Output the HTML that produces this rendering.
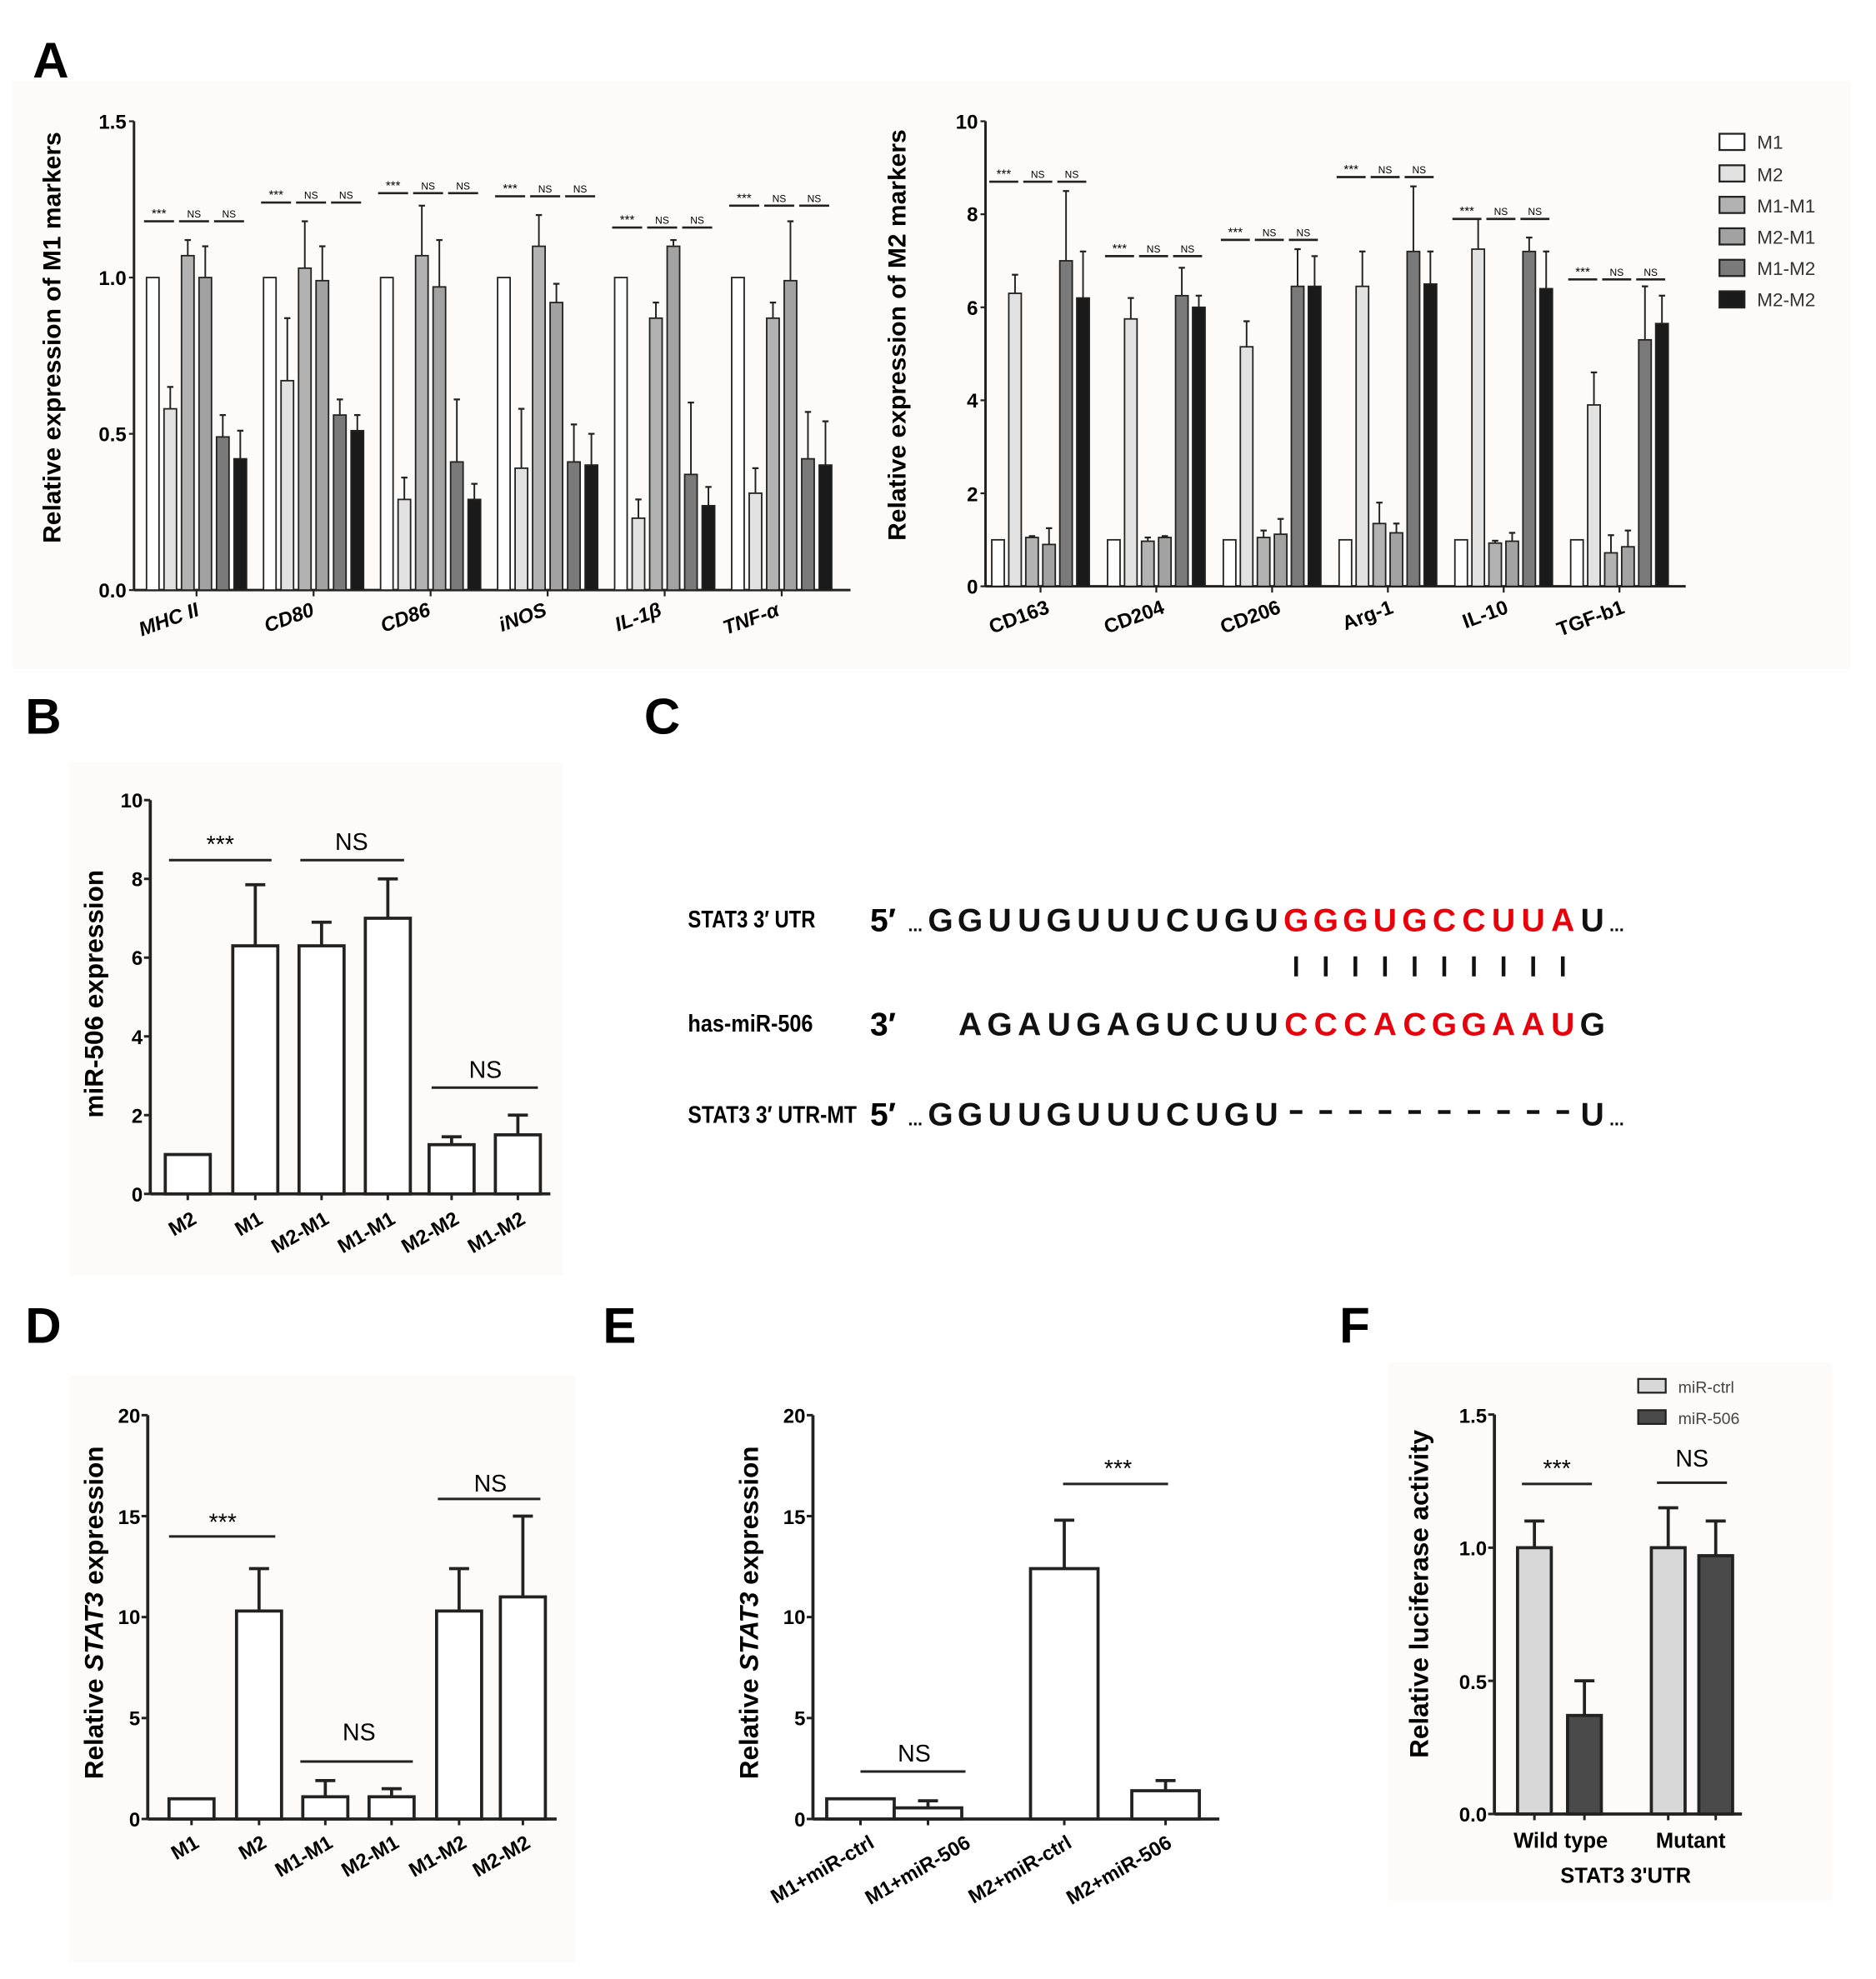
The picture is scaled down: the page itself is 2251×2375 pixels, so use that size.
<!DOCTYPE html>
<html><head><meta charset="utf-8"><style>
html,body{margin:0;padding:0;background:#fff}
svg{display:block}
text{font-family:"Liberation Sans",sans-serif}
.b{font-weight:bold}
.seq{font-family:"Liberation Sans",sans-serif;font-weight:bold;font-size:26px;text-anchor:middle}
.lab{font-family:"Liberation Sans",sans-serif;font-weight:bold;font-size:19px}
</style></head><body>
<svg id="s" width="2251" height="2375" viewBox="0 0 1500 1583" xmlns="http://www.w3.org/2000/svg">
<rect x="0" y="0" width="1500" height="1583" fill="#fff"/>
<rect x="10" y="65" width="1470" height="470" fill="#fcfbf9"/>
<rect x="55" y="610" width="395" height="410" fill="#fcfbf9"/>
<rect x="55" y="1100" width="405" height="470" fill="#fcfbf9"/>
<rect x="1110" y="1090" width="355" height="430" fill="#fcfbf9"/>
<g class="b" font-size="40">
<text x="26" y="62">A</text><text x="20" y="587">B</text><text x="515" y="587">C</text>
<text x="20" y="1074">D</text><text x="482" y="1074">E</text><text x="1071" y="1074">F</text>
</g>
<g id="g"></g>
<!-- A left texts -->
<g class="b" font-size="16" text-anchor="end">
<text x="101" y="478">0.0</text><text x="101" y="353">0.5</text><text x="101" y="228">1.0</text><text x="101" y="103">1.5</text>
</g>
<text class="b" font-size="20" transform="translate(48,270) rotate(-90)" text-anchor="middle">Relative expression of M1 markers</text>
<g class="b" font-size="16" font-style="italic" text-anchor="end">
<text transform="translate(160,492) rotate(-20)">MHC II</text>
<text transform="translate(252,492) rotate(-20)">CD80</text>
<text transform="translate(345,492) rotate(-20)">CD86</text>
<text transform="translate(438,492) rotate(-20)">iNOS</text>
<text transform="translate(530,492) rotate(-20)">IL-1β</text>
<text transform="translate(624,492) rotate(-20)">TNF-α</text>
</g>
<!-- A right -->
<g class="b" font-size="16" text-anchor="end">
<text x="782" y="475">0</text><text x="782" y="401">2</text><text x="782" y="326">4</text><text x="782" y="252">6</text><text x="782" y="177">8</text><text x="782" y="103">10</text>
</g>
<text class="b" font-size="20" transform="translate(724,268) rotate(-90)" text-anchor="middle">Relative expression of M2 markers</text>
<g class="b" font-size="16" text-anchor="end">
<text transform="translate(840,490) rotate(-20)">CD163</text>
<text transform="translate(932,490) rotate(-20)">CD204</text>
<text transform="translate(1025,490) rotate(-20)">CD206</text>
<text transform="translate(1115,490) rotate(-20)">Arg-1</text>
<text transform="translate(1207,490) rotate(-20)">IL-10</text>
<text transform="translate(1300,490) rotate(-20)">TGF-b1</text>
</g>
<g font-size="15" fill="#333">
<text x="1405" y="119">M1</text><text x="1405" y="145">M2</text><text x="1405" y="170">M1-M1</text><text x="1405" y="195">M2-M1</text><text x="1405" y="220">M1-M2</text><text x="1405" y="245">M2-M2</text>
</g>
<!-- B -->
<g class="b" font-size="16" text-anchor="end">
<text x="114" y="961">0</text><text x="114" y="898">2</text><text x="114" y="835">4</text><text x="114" y="772">6</text><text x="114" y="709">8</text><text x="114" y="646">10</text>
</g>
<text class="b" font-size="21" transform="translate(82,795) rotate(-90)" text-anchor="middle">miR-506 expression</text>
<g class="b" font-size="16" text-anchor="end">
<text transform="translate(158,978) rotate(-30)">M2</text>
<text transform="translate(211,978) rotate(-30)">M1</text>
<text transform="translate(264,978) rotate(-30)">M2-M1</text>
<text transform="translate(317,978) rotate(-30)">M1-M1</text>
<text transform="translate(368,978) rotate(-30)">M2-M2</text>
<text transform="translate(421,978) rotate(-30)">M1-M2</text>
</g>
<g font-size="19" text-anchor="middle"><text x="176" y="682">***</text><text x="281" y="680">NS</text><text x="388" y="862">NS</text></g>
<!-- C -->
<g class="lab"><text x="550" y="742" textLength="102" lengthAdjust="spacingAndGlyphs">STAT3 3′ UTR</text><text x="550" y="825" textLength="100" lengthAdjust="spacingAndGlyphs">has-miR-506</text><text x="550" y="898" textLength="135" lengthAdjust="spacingAndGlyphs">STAT3 3′ UTR-MT</text></g>
<g id="c"></g>
<!-- D -->
<g class="b" font-size="16" text-anchor="end">
<text x="112" y="1461">0</text><text x="112" y="1380">5</text><text x="112" y="1299">10</text><text x="112" y="1219">15</text><text x="112" y="1138">20</text>
</g>
<text class="b" font-size="21" transform="translate(82,1290) rotate(-90)" text-anchor="middle">Relative <tspan font-style="italic">STAT3</tspan> expression</text>
<g class="b" font-size="16" text-anchor="end">
<text transform="translate(160,1477) rotate(-30)">M1</text>
<text transform="translate(214,1477) rotate(-30)">M2</text>
<text transform="translate(267,1477) rotate(-30)">M1-M1</text>
<text transform="translate(320,1477) rotate(-30)">M2-M1</text>
<text transform="translate(374,1477) rotate(-30)">M1-M2</text>
<text transform="translate(425,1477) rotate(-30)">M2-M2</text>
</g>
<g font-size="19" text-anchor="middle"><text x="178" y="1224">***</text><text x="287" y="1392">NS</text><text x="392" y="1193">NS</text></g>
<!-- E -->
<g class="b" font-size="16" text-anchor="end">
<text x="644" y="1461">0</text><text x="644" y="1380">5</text><text x="644" y="1299">10</text><text x="644" y="1219">15</text><text x="644" y="1138">20</text>
</g>
<text class="b" font-size="21" transform="translate(606,1290) rotate(-90)" text-anchor="middle">Relative <tspan font-style="italic">STAT3</tspan> expression</text>
<g class="b" font-size="16" text-anchor="end">
<text transform="translate(700,1477) rotate(-30)">M1+miR-ctrl</text>
<text transform="translate(777,1477) rotate(-30)">M1+miR-506</text>
<text transform="translate(858,1477) rotate(-30)">M2+miR-ctrl</text>
<text transform="translate(938,1477) rotate(-30)">M2+miR-506</text>
</g>
<g font-size="19" text-anchor="middle"><text x="731" y="1409">NS</text><text x="894" y="1181">***</text></g>
<!-- F -->
<g class="b" font-size="16" text-anchor="end">
<text x="1189" y="1457">0.0</text><text x="1189" y="1351">0.5</text><text x="1189" y="1244">1.0</text><text x="1189" y="1138">1.5</text>
</g>
<text class="b" font-size="21" transform="translate(1142,1275) rotate(-90)" text-anchor="middle">Relative luciferase activity</text>
<g class="b" font-size="17" text-anchor="middle"><text x="1248" y="1478">Wild type</text><text x="1352" y="1478">Mutant</text><text x="1300" y="1506">STAT3 3'UTR</text></g>
<g font-size="13" fill="#444"><text x="1342" y="1114">miR-ctrl</text><text x="1342" y="1139">miR-506</text></g>
<g font-size="19" text-anchor="middle"><text x="1245" y="1181">***</text><text x="1353" y="1173">NS</text></g>
</svg>
<script>
var g=document.getElementById('g'),h='';
function R(x,y,w,hh,f,sw){h+='<rect x="'+x+'" y="'+y+'" width="'+w+'" height="'+hh+'" fill="'+f+'" stroke="#222" stroke-width="'+(sw||1)+'"/>';}
function L(x1,y1,x2,y2,sw){h+='<line x1="'+x1+'" y1="'+y1+'" x2="'+x2+'" y2="'+y2+'" stroke="#222" stroke-width="'+(sw||1.5)+'"/>';}
var fills=['#fff','#e2e2e2','#b2b2b2','#a2a2a2','#7a7a7a','#1a1a1a'];
function grouped(ax,y0,sc,xend,start,pitch,bp,bw,data,ticks){
 L(ax,y0,xend,y0,2);L(ax,y0,ax,y0-ticks[ticks.length-1]*sc,2);
 ticks.forEach(function(t){L(ax-4,y0-t*sc,ax,y0-t*sc,1.5);});
 data.forEach(function(d,gi){var s=start+gi*pitch;
  for(var i=0;i<6;i++){var x=s+i*bp,v=d[0][i];R(x,y0-v*sc,bw,v*sc,fills[i],1.2);
   if(i>0){var e=d[1][i-1];L(x+bw/2,y0-v*sc,x+bw/2,y0-e*sc,1.3);L(x+bw/2-2.5,y0-e*sc,x+bw/2+2.5,y0-e*sc,1.5);}}
  var sy=y0-d[2]*sc;
  for(var k=0;k<3;k++){var a=s+k*2*bp-2,b=a+2*bp-4;L(a,sy,b,sy,1.8);
   h+='<text x="'+(a+b)/2+'" y="'+(sy-3)+'" font-size="'+(k==0?10:8)+'" text-anchor="middle">'+(k==0?'***':'NS')+'</text>';}
  L(s+2.5*bp+bw/2,y0,s+2.5*bp+bw/2,y0+5,1.5);
 });}
grouped(107,472,250,680,117,93.6,14,10,[
[[1,.58,1.07,1.0,.49,.42],[.65,1.12,1.1,.56,.51],1.18],
[[1,.67,1.03,.99,.56,.51],[.87,1.18,1.1,.61,.56],1.24],
[[1,.29,1.07,.97,.41,.29],[.36,1.23,1.12,.61,.34],1.27],
[[1,.39,1.1,.92,.41,.40],[.58,1.2,.98,.53,.5],1.26],
[[1,.23,.87,1.1,.37,.27],[.29,.92,1.12,.6,.33],1.16],
[[1,.31,.87,.99,.42,.40],[.39,.92,1.18,.57,.54],1.23]],[0,.5,1,1.5]);
grouped(788,469,37.2,1348,793,92.6,13.6,10,[
[[1,6.3,1.05,.9,7.0,6.2],[6.7,1.08,1.25,8.5,7.2],8.7],
[[1,5.75,.97,1.05,6.25,6.0],[6.2,1.05,1.08,6.85,6.25],7.1],
[[1,5.15,1.05,1.12,6.45,6.45],[5.7,1.2,1.45,7.25,7.1],7.45],
[[1,6.45,1.35,1.15,7.2,6.5],[7.2,1.8,1.35,8.6,7.2],8.8],
[[1,7.25,.93,.97,7.2,6.4],[7.9,.98,1.15,7.5,7.2],7.9],
[[1,3.9,.72,.85,5.3,5.65],[4.6,1.1,1.2,6.45,6.25],6.6]],[0,2,4,6,8,10]);
for(var i=0;i<6;i++)R(1375,107+i*25.2,20,13,fills[i],1.5);
function simple(ax,y0,sc,xend,ymax,ticks,bars,bw,sigs,fillf){
 L(ax,y0,xend,y0,2.5);L(ax,y0,ax,y0-ymax*sc,2.5);
 ticks.forEach(function(t){L(ax-5,y0-t*sc,ax,y0-t*sc,2);});
 bars.forEach(function(b,i){var x=b[0]-bw/2;R(x,y0-b[1]*sc,bw,b[1]*sc,fillf?fillf[i]:'#fff',2.5);
  if(b[2]){L(b[0],y0-b[1]*sc,b[0],y0-b[2]*sc,2.5);L(b[0]-8,y0-b[2]*sc,b[0]+8,y0-b[2]*sc,2.5);}
  L(b[0],y0,b[0],y0+5,2);});
 sigs.forEach(function(s){L(s[0],s[2],s[1],s[2],2);});}
simple(120,955,31.5,440,10,[0,2,4,6,8,10],[[150,1],[204,6.3,7.85],[257,6.3,6.9],[310,7.0,8.0],[361,1.25,1.45],[414,1.5,2.0]],36,
 [[135,217,688],[240,323,688],[345,430,870]]);
simple(118,1455,16.15,445,20,[0,5,10,15,20],[[153,1],[207,10.3,12.4],[260,1.1,1.9],[313,1.1,1.5],[367,10.3,12.4],[418,11,15]],36,
 [[135,220,1229],[240,330,1409],[350,432,1199]]);
simple(650,1455,16.15,975,20,[0,5,10,15,20],[[688,1],[742,.55,.9],[851,12.4,14.8],[932,1.4,1.9]],54,
 [[688,772,1417],[850,934,1187]]);
simple(1195,1451,213,1393,1.5,[0,.5,1,1.5],[[1227,1,1.1],[1267,.37,.5],[1334,1,1.15],[1372,.97,1.1]],27,
 [[1217,1273,1187],[1325,1381,1186]],['#d8d8d8','#4a4a4a','#d8d8d8','#4a4a4a']);
R(1310,1103,22,11,'#d8d8d8',1.5);R(1310,1128,22,11,'#4a4a4a',1.5);
g.innerHTML=h;
var c='',st=23.7,x0=752;
function T(i,y,ch,col){c+='<text class="seq" x="'+(x0+i*st)+'" y="'+y+'" fill="'+col+'">'+ch+'</text>';}
c+='<text class="seq" x="706" y="745">5′</text><text class="seq" x="706" y="828">3′</text><text class="seq" x="706" y="900">5′</text>';
c+='<text x="726" y="745" font-size="14" font-weight="bold">...</text><text x="726" y="900" font-size="14" font-weight="bold">...</text>';
c+='<text x="1287" y="745" font-size="14" font-weight="bold">...</text><text x="1287" y="900" font-size="14" font-weight="bold">...</text>';
var r1='GGUUGUUUCUGUGGGUGCCUUAU',r2=' AGAUGAGUCUUCCCACGGAAUG',r3='GGUUGUUUCUGU----------U';
for(var i=0;i<23;i++){var red=i>=12&&i<=21;
 T(i,745,r1[i],red?'#e8000b':'#111');
 if(r2[i]!=' ')T(i,828,r2[i],red?'#e8000b':'#111');
 if(r3[i]=='-')c+='<rect x="'+(x0+i*st-5)+'" y="888" width="10" height="3" fill="#111"/>';else T(i,900,r3[i],'#111');
 if(red)c+='<rect x="'+(x0+i*st-1.5)+'" y="765" width="3" height="16" fill="#111"/>';}
document.getElementById('c').innerHTML=c;
</script>
</body></html>
